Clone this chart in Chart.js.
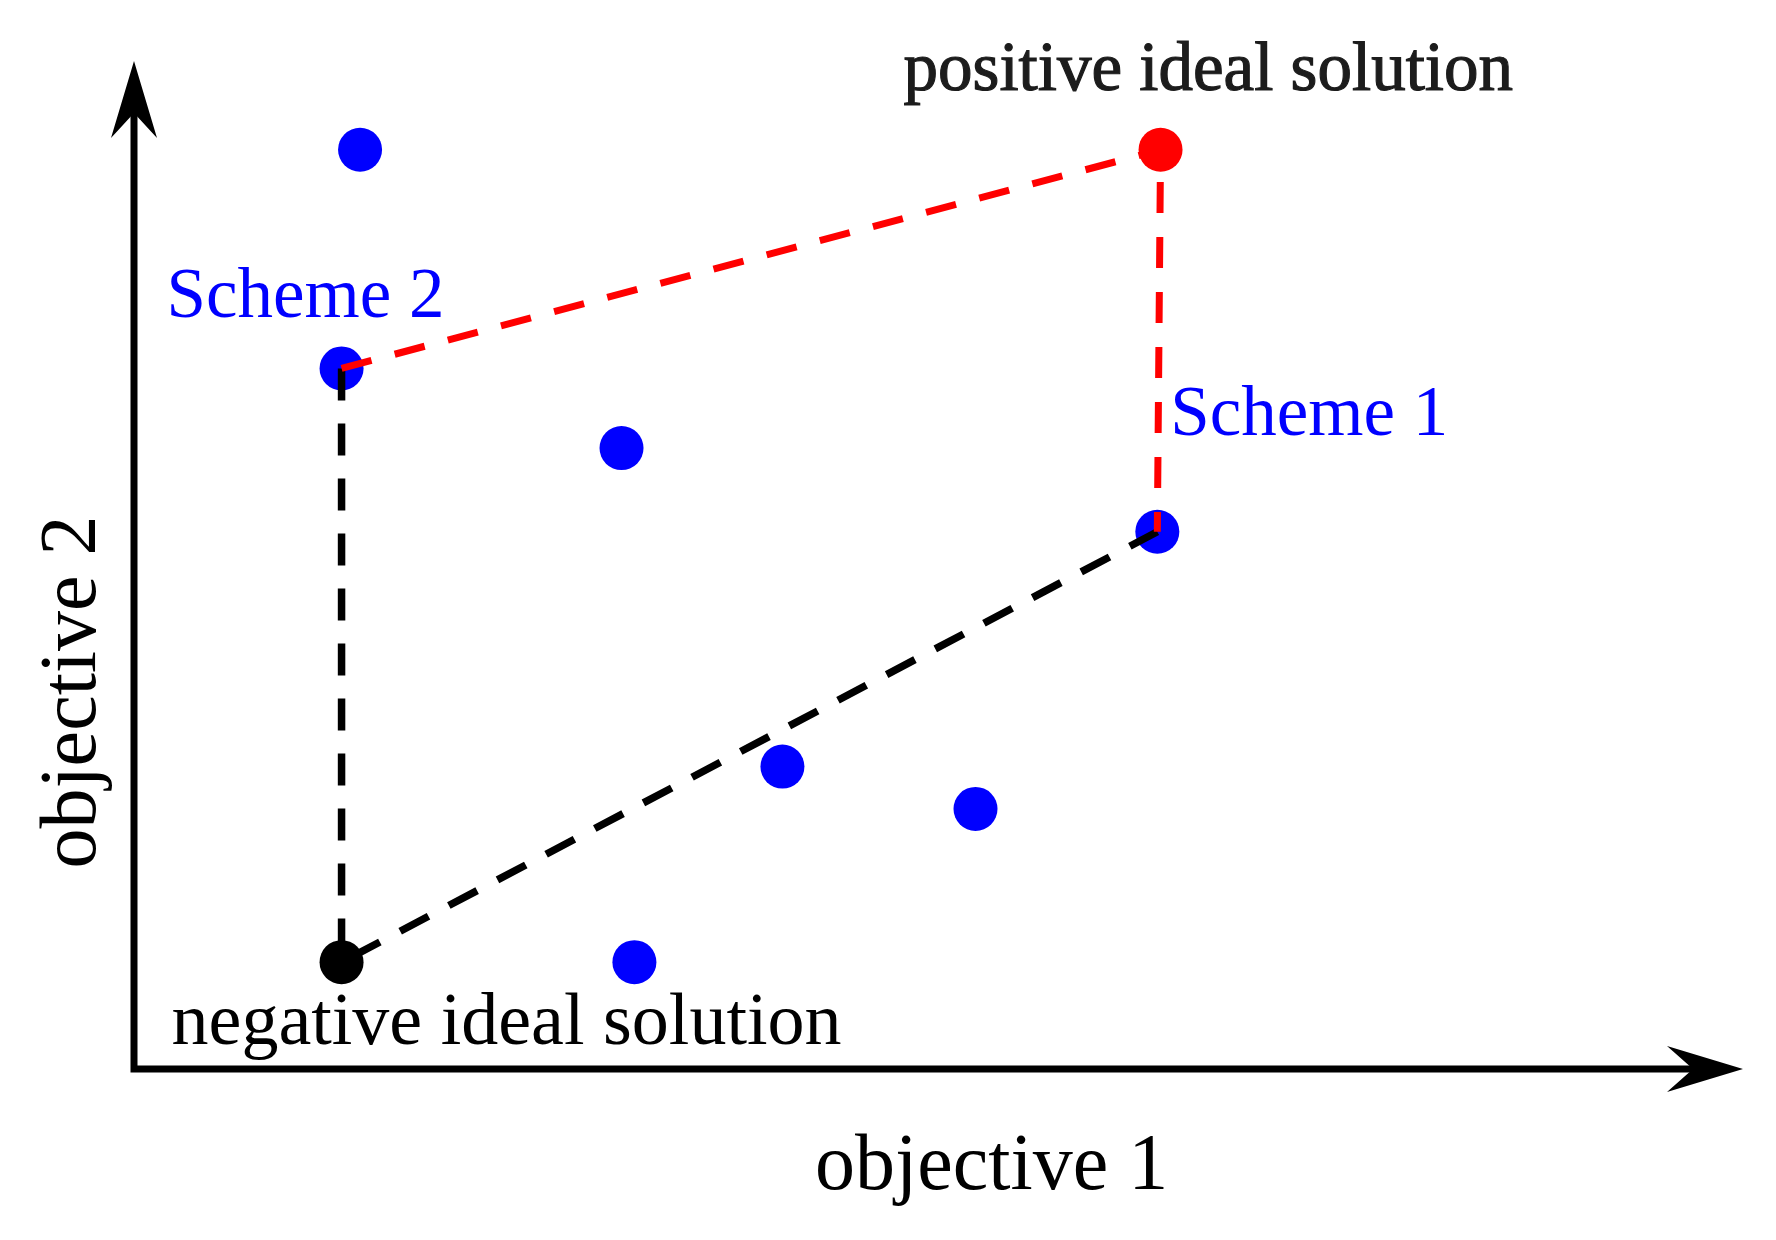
<!DOCTYPE html>
<html lang="en">
  <head>
    <meta charset="UTF-8" />
    <script src="https://cdn.jsdelivr.net/npm/chart.js"></script>
    <title>TOPSIS</title>
    <style>
      body { margin: 0; background: #fff; }
      #wrap { width: 1776px; height: 1240px; position: relative; }
    </style>
  </head>
  <body>
    <div id="wrap"><canvas id="topsisChart"></canvas></div>

    <script>
      // candidate schemes (objective 1, objective 2)
      const schemeX = [14.05, 12.9, 30.3, 63.6, 40.3, 52.3, 31.1];
      const schemeY = [91.2, 69.5, 61.6, 53.3, 30.0, 25.8, 10.6];
      const schemeNames = ["", "Scheme 2", "", "Scheme 1", "", "", ""];

      const positiveIdeal = { x: 63.8, y: 91.2 };
      const negativeIdeal = { x: 12.9, y: 10.6 };

      const axisTitles = ["objective 1", "objective 2"];
      const idealNames = ["positive ideal solution", "negative ideal solution"];

      const schemes = schemeX.map((x, i) => ({ x: x, y: schemeY[i] }));
      const scheme1 = schemes[schemeNames.indexOf("Scheme 1")];
      const scheme2 = schemes[schemeNames.indexOf("Scheme 2")];

      const SERIF = '"Liberation Serif", "Times New Roman", serif';

      const decorations = {
        id: "decorations",
        afterDraw(chart) {
          const { ctx, chartArea: a, scales } = chart;
          const px = (p) => ({ x: scales.x.getPixelForValue(p.x), y: scales.y.getPixelForValue(p.y) });
          ctx.save();

          // axes with arrow heads
          ctx.strokeStyle = "#000";
          ctx.fillStyle = "#000";
          ctx.lineWidth = 7;
          ctx.beginPath();
          ctx.moveTo(a.left, a.top + 40);
          ctx.lineTo(a.left, a.bottom);
          ctx.lineTo(a.right - 40, a.bottom);
          ctx.stroke();

          ctx.beginPath();
          ctx.moveTo(a.left, a.top);
          ctx.lineTo(a.left + 23, a.top + 77);
          ctx.lineTo(a.left, a.top + 52);
          ctx.lineTo(a.left - 23, a.top + 77);
          ctx.closePath();
          ctx.fill();

          ctx.beginPath();
          ctx.moveTo(a.right, a.bottom);
          ctx.lineTo(a.right - 76, a.bottom - 23);
          ctx.lineTo(a.right - 50, a.bottom);
          ctx.lineTo(a.right - 76, a.bottom + 23);
          ctx.closePath();
          ctx.fill();

          // axis titles
          ctx.textBaseline = "alphabetic";
          ctx.font = "80px " + SERIF;
          ctx.textAlign = "left";
          ctx.fillText(axisTitles[0], 815, a.bottom + 120);
          ctx.save();
          ctx.translate(95, 692);
          ctx.rotate(-Math.PI / 2);
          ctx.textAlign = "center";
          ctx.fillText(axisTitles[1], 0, 0);
          ctx.restore();

          // ideal solution labels
          const pos = px(positiveIdeal);
          ctx.font = "69px " + SERIF;
          ctx.fillStyle = "#1c1c1c";
          ctx.strokeStyle = "#1c1c1c";
          ctx.lineWidth = 1.2;
          ctx.textAlign = "left";
          ctx.fillText(idealNames[0], pos.x - 257, pos.y - 60);
          ctx.strokeText(idealNames[0], pos.x - 257, pos.y - 60);

          const neg = px(negativeIdeal);
          ctx.font = "74px " + SERIF;
          ctx.fillStyle = "#000";
          ctx.fillText(idealNames[1], neg.x - 170, neg.y + 82);

          // scheme labels
          ctx.font = "71px " + SERIF;
          ctx.fillStyle = "#0000ff";
          const s2 = px(scheme2);
          ctx.fillText("Scheme 2", s2.x - 175, s2.y - 51);
          const s1 = px(scheme1);
          ctx.fillText("Scheme 1", s1.x + 13, s1.y - 97);

          ctx.restore();
        },
      };

      new Chart(document.getElementById("topsisChart"), {
        type: "scatter",
        data: {
          datasets: [
            {
              type: "line",
              label: "distance to positive ideal",
              data: [scheme2, positiveIdeal, scheme1],
              borderColor: "#ff0000",
              borderWidth: 7,
              borderDash: [31, 24],
              pointRadius: 0,
              fill: false,
              tension: 0,
            },
            {
              type: "line",
              label: "distance to negative ideal",
              data: [scheme2, negativeIdeal, scheme1],
              borderColor: "#000000",
              borderWidth: 7.5,
              borderDash: [32, 23],
              pointRadius: 0,
              fill: false,
              tension: 0,
            },
            {
              label: "positive ideal solution",
              data: [positiveIdeal],
              backgroundColor: "#ff0000",
              pointRadius: 22,
              borderWidth: 0,
            },
            {
              label: "negative ideal solution",
              data: [negativeIdeal],
              backgroundColor: "#000000",
              pointRadius: 22,
              borderWidth: 0,
            },
            {
              label: "schemes",
              data: schemes,
              backgroundColor: "#0000ff",
              pointRadius: 22,
              borderWidth: 0,
            },
          ],
        },
        options: {
          responsive: true,
          maintainAspectRatio: false,
          animation: false,
          layout: { padding: { left: 134, top: 61, right: 33, bottom: 171 } },
          scales: {
            x: { type: "linear", min: 0, max: 100, display: false },
            y: { type: "linear", min: 0, max: 100, display: false },
          },
          plugins: {
            legend: { display: false },
            tooltip: { enabled: false },
          },
        },
        plugins: [decorations],
      });
    </script>
  </body>
</html>
